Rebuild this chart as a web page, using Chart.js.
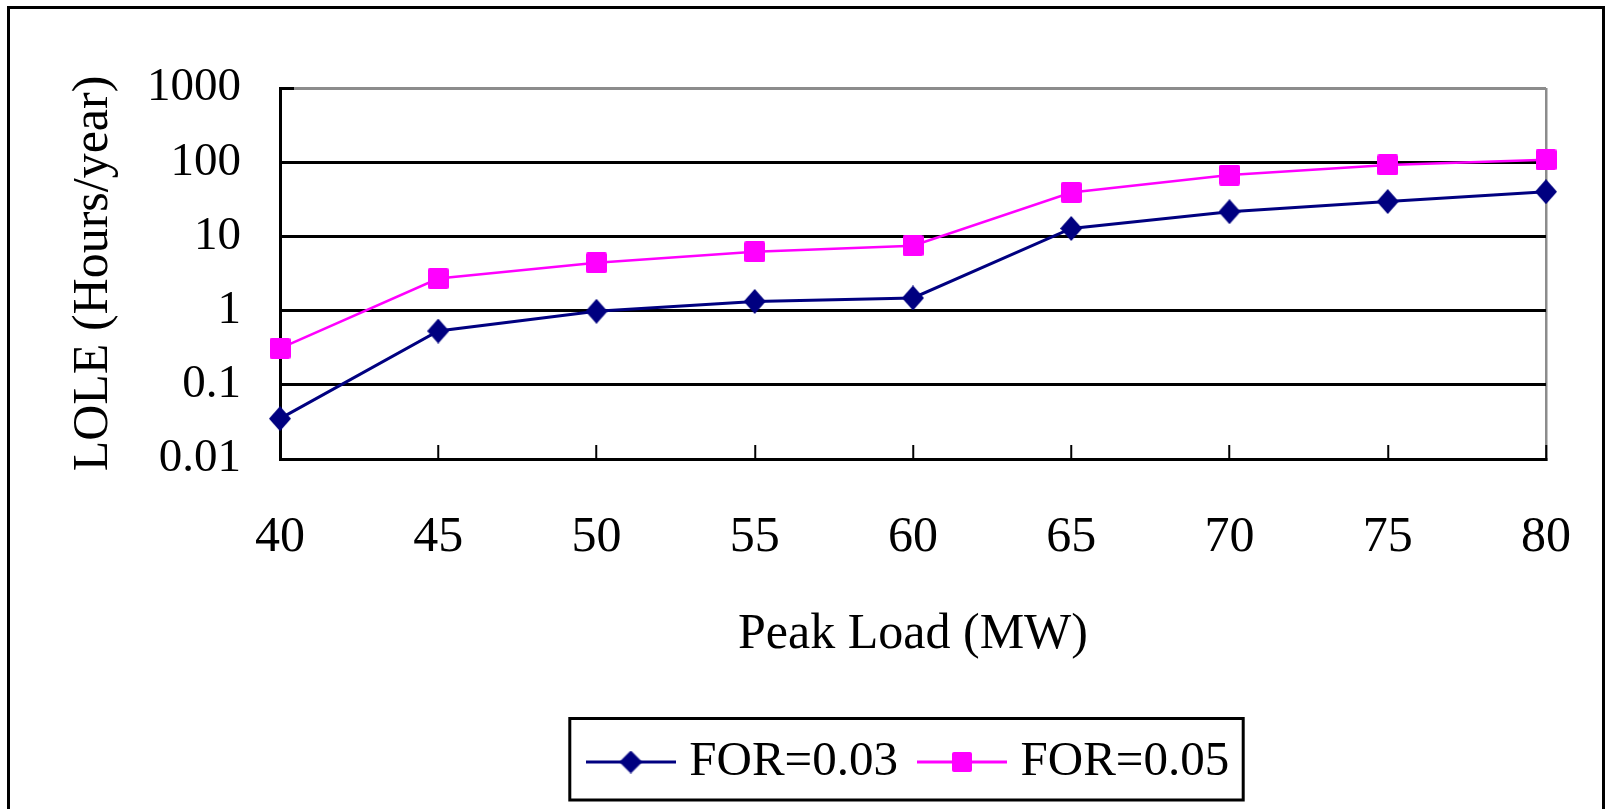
<!DOCTYPE html>
<html>
<head>
<meta charset="utf-8">
<script src="https://cdn.jsdelivr.net/npm/chart.js@4.4.1/dist/chart.umd.min.js"></script>
<style>
  html, body { margin: 0; padding: 0; background: #fff; }
  body { width: 1608px; height: 809px; overflow: hidden; position: relative; }
  #frame { position: absolute; left: 7px; top: 6px; width: 1592px; height: 900px; border: 3px solid #000; box-sizing: content-box; }
  #c { position: absolute; left: 0; top: 0; }
</style>
</head>
<body>
<div id="frame"></div>
<canvas id="c" width="1608" height="809"></canvas>
<script>
// ---- data ----
const xLabels = ['40', '45', '50', '55', '60', '65', '70', '75', '80'];
const seriesNames = ['FOR=0.03', 'FOR=0.05'];
const lole003 = [0.035, 0.53, 0.98, 1.33, 1.48, 12.8, 21.5, 29.5, 40];
const lole005 = [0.31, 2.7, 4.4, 6.2, 7.5, 39, 67, 92, 108];
const yTickValues = [0.01, 0.1, 1, 10, 100, 1000];
const yTickLabels = ['0.01', '0.1', '1', '10', '100', '1000'];
const xTitle = 'Peak Load (MW)';
const yTitle = 'LOLE (Hours/year)';

const NAVY = '#000080';
const MAGENTA = '#FF00FF';
const FONT = "'Liberation Serif', 'Times New Roman', serif";

function diamond(w, h, color) {
  const c = document.createElement('canvas');
  c.width = w; c.height = h;
  const g = c.getContext('2d');
  g.fillStyle = color;
  g.beginPath();
  g.moveTo(w / 2, 0); g.lineTo(w, h / 2); g.lineTo(w / 2, h); g.lineTo(0, h / 2);
  g.closePath(); g.fill();
  return c;
}
function square(s, color) {
  const c = document.createElement('canvas');
  c.width = s; c.height = s;
  const g = c.getContext('2d');
  g.fillStyle = color;
  g.beginPath();
  if (g.roundRect) g.roundRect(0, 0, s, s, 2); else g.rect(0, 0, s, s);
  g.fill();
  return c;
}
function legendIcon(marker, color, lw) {
  const W = 90, H = 26;
  const c = document.createElement('canvas');
  c.width = W; c.height = H;
  const g = c.getContext('2d');
  g.strokeStyle = color; g.lineWidth = lw;
  g.beginPath(); g.moveTo(0, H / 2); g.lineTo(W, H / 2); g.stroke();
  g.drawImage(marker, (W - marker.width) / 2, (H - marker.height) / 2);
  return c;
}

const dMarker = diamond(22, 25, NAVY);
const sMarker = square(21, MAGENTA);
const dLegend = legendIcon(diamond(23, 23, NAVY), NAVY, 3);
const sLegend = legendIcon(square(20, MAGENTA), MAGENTA, 3);
const legendIcons = [dLegend, sLegend];

const legendFrame = {
  id: 'legendFrame',
  afterDraw(chart) {
    const lg = chart.legend;
    if (!lg || !lg.legendHitBoxes || !lg.legendHitBoxes.length) return;
    const hb = lg.legendHitBoxes;
    const first = hb[0], last = hb[hb.length - 1];
    const left = first.left - 27;
    const right = last.left + last.width + 14;
    const top = first.top - 19;
    const bottom = first.top + first.height + 13.5;
    const ctx = chart.ctx;
    ctx.save();
    ctx.strokeStyle = '#000';
    ctx.lineWidth = 3;
    ctx.strokeRect(left, top, right - left, bottom - top);
    ctx.restore();
  }
};

new Chart(document.getElementById('c'), {
  type: 'line',
  data: {
    labels: xLabels,
    datasets: [
      {
        label: seriesNames[0],
        data: lole003,
        borderColor: NAVY,
        backgroundColor: NAVY,
        borderWidth: 3,
        pointStyle: dMarker,
        pointRadius: 12,
        tension: 0,
        clip: false
      },
      {
        label: seriesNames[1],
        data: lole005,
        borderColor: MAGENTA,
        backgroundColor: MAGENTA,
        borderWidth: 2.5,
        pointStyle: sMarker,
        pointRadius: 12,
        tension: 0,
        clip: false
      }
    ]
  },
  options: {
    responsive: false,
    animation: false,
    devicePixelRatio: 1,
    layout: { padding: { left: 0, top: 88, right: 62, bottom: 12.5 } },
    plugins: {
      tooltip: { enabled: false },
      legend: {
        position: 'bottom',
        fullSize: false,
        labels: {
          usePointStyle: true,
          pointStyleWidth: 68,
          padding: 30,
          color: '#000',
          font: { family: FONT, size: 49 },
          generateLabels(chart) {
            const items = Chart.defaults.plugins.legend.labels.generateLabels(chart);
            items.forEach((it, i) => { it.pointStyle = legendIcons[i]; });
            return items;
          }
        }
      }
    },
    scales: {
      x: {
        type: 'category',
        offset: false,
        border: { display: true, color: '#000', width: 3 },
        grid: {
          drawOnChartArea: true,
          drawTicks: true,
          tickLength: -14,
          tickColor: '#000',
          tickWidth: 2,
          lineWidth: 2.5,
          color: (ctx) => (ctx.index === xLabels.length - 1 ? '#8c8c8c' : 'rgba(0,0,0,0)')
        },
        ticks: {
          color: '#000',
          font: { family: FONT, size: 50 },
          padding: 62.5,
          maxRotation: 0,
          autoSkip: false
        },
        title: {
          display: true,
          text: xTitle,
          color: '#000',
          font: { family: FONT, size: 50 },
          padding: { top: 0, bottom: 42.5 }
        },
        afterFit(scale) {
          scale.height = 248.5;
          scale.paddingLeft = 0;
          scale.paddingRight = 0;
        }
      },
      y: {
        type: 'logarithmic',
        min: 0.01,
        max: 1000,
        border: { display: true, color: '#000', width: 3 },
        grid: {
          drawOnChartArea: true,
          drawTicks: true,
          tickLength: -14,
          tickColor: '#000',
          tickWidth: 3,
          lineWidth: 3,
          color: (ctx) => (ctx.tick && ctx.tick.value === 1000 ? '#8c8c8c' : '#000')
        },
        afterBuildTicks(scale) {
          scale.ticks = yTickValues.map(v => ({ value: v, major: true }));
        },
        ticks: {
          color: '#000',
          font: { family: FONT, size: 47 },
          padding: 53,
          autoSkip: false,
          callback(value) {
            const i = yTickValues.indexOf(value);
            return i >= 0 ? yTickLabels[i] : '';
          }
        },
        title: {
          display: true,
          text: yTitle,
          color: '#000',
          font: { family: FONT, size: 50 },
          padding: { top: 64, bottom: 0 }
        },
        afterFit(scale) { scale.width = 280; }
      }
    }
  },
  plugins: [legendFrame]
});
</script>
</body>
</html>
